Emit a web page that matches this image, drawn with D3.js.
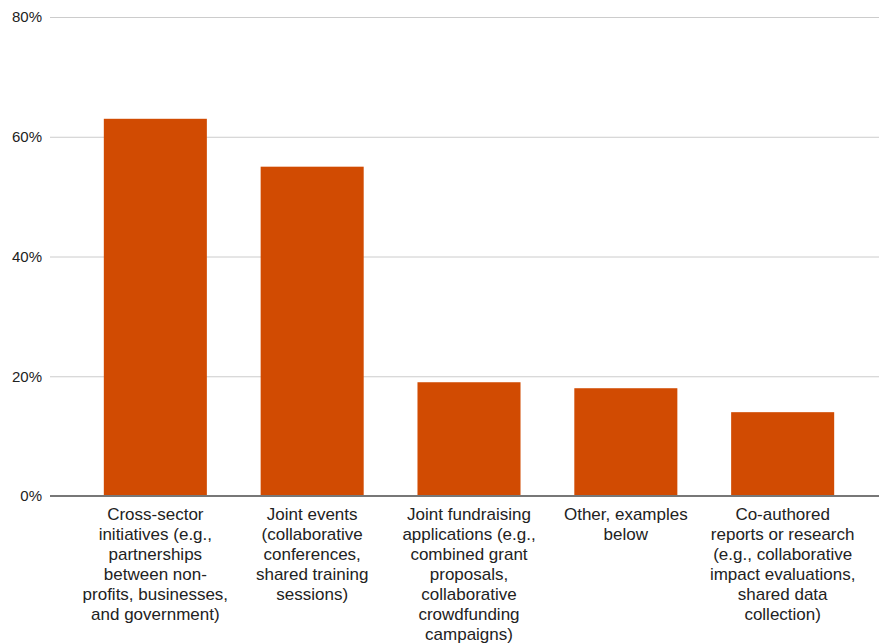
<!DOCTYPE html>
<html>
<head>
<meta charset="utf-8">
<script src="https://cdn.jsdelivr.net/npm/d3@7"></script>
<style>
  html, body { margin: 0; padding: 0; background: #fff; }
  svg { display: block; font-family: "Liberation Sans", Arial, sans-serif; }
</style>
</head>
<body>
<svg id="chart" width="879" height="643"></svg>
<script>
// Collaboration types and the share of respondents reporting each
const categories = [
  "Cross-sector initiatives (e.g., partnerships between non-profits, businesses, and government)",
  "Joint events (collaborative conferences, shared training sessions)",
  "Joint fundraising applications (e.g., combined grant proposals, collaborative crowdfunding campaigns)",
  "Other, examples below",
  "Co-authored reports or research (e.g., collaborative impact evaluations, shared data collection)"
];
const categoryLines = [
  ["Cross-sector", "initiatives (e.g.,", "partnerships", "between non-", "profits, businesses,", "and government)"],
  ["Joint events", "(collaborative", "conferences,", "shared training", "sessions)"],
  ["Joint fundraising", "applications (e.g.,", "combined grant", "proposals,", "collaborative", "crowdfunding", "campaigns)"],
  ["Other, examples", "below"],
  ["Co-authored", "reports or research", "(e.g., collaborative", "impact evaluations,", "shared data", "collection)"]
];
const values = [0.63, 0.55, 0.19, 0.18, 0.14];
const yTicks = [0, 0.2, 0.4, 0.6, 0.8];

const svg = d3.select("#chart");
const gridLeft = 50, gridRight = 879;
const plotTop = 17, plotBottom = 496;

const x = d3.scaleBand()
  .domain(categories)
  .range([77, 861])
  .paddingInner(0.343)
  .paddingOuter(0.171);

const y = d3.scaleLinear()
  .domain([0, 0.8])
  .range([plotBottom, plotTop]);

// Horizontal gridlines and y tick labels
const yAxis = d3.axisLeft(y)
  .tickValues(yTicks)
  .tickFormat(d3.format(".0%"))
  .tickSize(-(gridRight - gridLeft))
  .tickPadding(8);

const gy = svg.append("g")
  .attr("transform", `translate(${gridLeft},0)`)
  .call(yAxis);
gy.select(".domain").remove();
gy.selectAll(".tick line").attr("stroke", "#cccccc").attr("stroke-width", 1);
gy.selectAll(".tick text")
  .attr("fill", "#222")
  .style("font-size", "15px")
  .attr("font-family", "Liberation Sans, Arial, sans-serif");

// Bars
svg.append("g")
  .selectAll("rect")
  .data(values)
  .join("rect")
  .attr("x", (d, i) => x(categories[i]))
  .attr("y", d => y(d))
  .attr("width", x.bandwidth())
  .attr("height", d => y(0) - y(d))
  .attr("fill", "#d14b02");

// Baseline
svg.append("line")
  .attr("x1", gridLeft).attr("x2", gridRight)
  .attr("y1", y(0)).attr("y2", y(0))
  .attr("stroke", "#777")
  .attr("stroke-width", 2);

// Category labels, wrapped onto several centred lines
const labels = svg.append("g")
  .selectAll("text")
  .data(categories)
  .join("text")
  .attr("x", d => x(d) + x.bandwidth() / 2)
  .attr("y", 520)
  .attr("text-anchor", "middle")
  .attr("fill", "#222")
  .style("font-size", "17px");

labels.each(function(d, i) {
  d3.select(this).selectAll("tspan")
    .data(categoryLines[i])
    .join("tspan")
    .attr("x", x(d) + x.bandwidth() / 2)
    .attr("dy", (t, j) => j === 0 ? 0 : 20)
    .text(t => t);
});
</script>
</body>
</html>
